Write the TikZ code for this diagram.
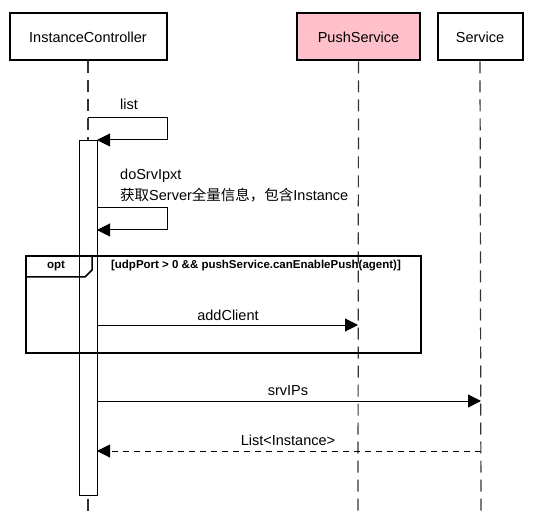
\documentclass[tikz,border=0pt]{standalone}
\usepackage{fontspec}
\setmainfont{Liberation Sans}
\newfontfamily\cjk{Noto Sans CJK SC}
\usetikzlibrary{arrows.meta}
\definecolor{pinkfill}{RGB}{255,192,203}
\tikzset{
  actor/.style={draw, line width=2pt, minimum height=47pt, inner sep=0pt, font=\fontsize{14.5}{17}\selectfont},
  lifeline/.style={line width=1.2pt, draw=black!80, dash pattern=on 12pt off 7pt},
  msg/.style={line width=1pt, -{Triangle[length=13pt,width=13pt]}},
  ret/.style={line width=1pt, dash pattern=on 6pt off 5pt, -{Triangle[length=13pt,width=13pt]}},
  lbl/.style={font=\fontsize{14.5}{17}\selectfont, inner sep=0pt},
  frame/.style={draw, line width=2pt},
  bsmall/.style={font=\bfseries\fontsize{11.5}{13}\selectfont, inner sep=0pt},
}
\begin{document}
\begin{tikzpicture}[x=1pt,y=-1pt]
\useasboundingbox (0,0) rectangle (533,513);
% actors
\node[actor, minimum width=157pt] (ic) at (88,37) {InstanceController};
\node[actor, minimum width=123pt, fill=pinkfill] (ps) at (358.5,37) {PushService};
\node[actor, minimum width=85pt] (sv) at (480,37) {Service};
% lifelines
\coordinate (icEnd) at (88,513);
\coordinate (psEnd) at (358,513);
\coordinate (svEnd) at (481,513);
\draw[lifeline] (ic.south) -- (icEnd);
\draw[lifeline] (ps.south) -- (psEnd);
\draw[lifeline] (sv.south) -- (svEnd);
% activation
\node[draw, fill=white, line width=1pt, minimum width=18pt, minimum height=355pt, inner sep=0pt, anchor=north] (act) at (88,140) {};
% opt frame
\node[frame, minimum width=395pt, minimum height=97pt, inner sep=0pt, anchor=north west] (opt) at (25,255) {};
\draw[line width=1.5pt] (25,277) -- (85,277) -- (92,270) -- (92,255);
\node[bsmall] (optl) at (56,266) {opt};
\node[bsmall] (cond) at (256,266) {[udpPort > 0 \&\& pushService.canEnablePush(agent)]};
% self message list
\coordinate (l1) at (88,118);
\coordinate (l2) at (167,118);
\coordinate (l3) at (167,140);
\coordinate (l4) at (97,140);
\draw[msg] (l1) -- (l2) -- (l3) -- (l4);
\node[lbl, anchor=west] (listl) at (120,104) {list};
% self message doSrvIpxt
\coordinate (d1) at (97,208);
\coordinate (d2) at (167,208);
\coordinate (d3) at (167,230);
\coordinate (d4) at (97,230);
\draw[msg] (d1) -- (d2) -- (d3) -- (d4);
\node[lbl, anchor=west] (dol) at (120,176) {doSrvIpxt};
\node[lbl, anchor=west] (dol2) at (120,195) {{\cjk 获取}Server{\cjk 全量信息，包含}Instance};
% addClient
\coordinate (a1) at (97,325);
\coordinate (a2) at (358,325);
\draw[msg] (a1) -- (a2);
\node[lbl] (al) at (228,315) {addClient};
% srvIPs
\coordinate (s1) at (97,401);
\coordinate (s2) at (481,401);
\draw[msg] (s1) -- (s2);
\node[lbl] (sl) at (288,391) {srvIPs};
% return
\coordinate (r1) at (481,451);
\coordinate (r2) at (97,451);
\draw[ret] (r1) -- (r2);
\node[lbl] (rl) at (288,440) {List<Instance>};
\end{tikzpicture}
\end{document}
